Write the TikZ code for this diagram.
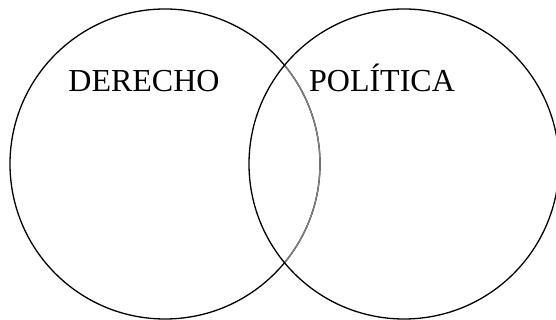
\documentclass[tikz,border=0pt]{standalone}
\usepackage{fontspec}
\setmainfont{Liberation Serif}
\usepackage{tikz}

\begin{document}
\begin{tikzpicture}[x=1pt,y=1pt,line width=1.3pt]
  \useasboundingbox (0,0) rectangle (556,320);
  % the two sets
  \coordinate (der) at (165,156);
  \coordinate (pol) at (404,156);
  \draw[black] (der) circle (155);
  % part of the left circle that lies inside the right one
  \draw[black!50] (der) ++(39.6:155) arc (39.6:-39.6:155);
  \draw[black] (pol) circle (155);
  \node[anchor=base,inner sep=0pt,font=\fontsize{32}{38}\selectfont] (derecho) at (144,228) {DERECHO};
  \node[anchor=base,inner sep=0pt,font=\fontsize{32}{38}\selectfont] (politica) at (382,228) {POLÍTICA};
\end{tikzpicture}
\end{document}
